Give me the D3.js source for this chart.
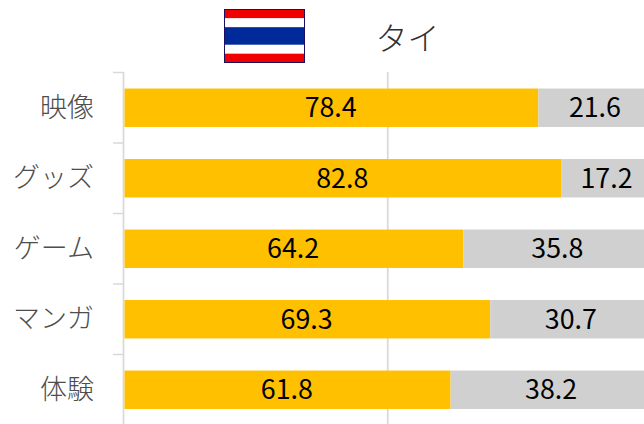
<!DOCTYPE html>
<html lang="ja">
<head>
<meta charset="utf-8">
<script src="https://cdn.jsdelivr.net/npm/d3@7"></script>
<style>
html, body { margin: 0; padding: 0; background: #fff; overflow: hidden; }
text { font-family: "Noto Sans CJK JP", sans-serif; }
</style>
</head>
<body>
<div id="chart"></div>
<script>
const categories = ["映像", "グッズ", "ゲーム", "マンガ", "体験"];
const yesValues = [78.4, 82.8, 64.2, 69.3, 61.8];
const noValues = [21.6, 17.2, 35.8, 30.7, 38.2];
const gridValues = [0, 50, 100];
const titleText = "タイ";

const flagStripes = ["#f00000", "#ffffff", "#00299a", "#ffffff", "#f00000"];
const flagWeights = [1, 1, 2, 1, 1];

const chartWidth = 644, chartHeight = 424;
const plot = { top: 72, bottom: 424, left: 124, unit: 5.285 };

const svg = d3.select("#chart").append("svg")
    .attr("width", chartWidth)
    .attr("height", chartHeight)
    .style("display", "block");

const x = d3.scaleLinear()
    .domain([0, 100])
    .range([plot.left, plot.left + 100 * plot.unit]);

const y = d3.scaleBand()
    .domain(categories)
    .range([plot.top + 0.5, plot.bottom + 1])
    .paddingInner(0.455)
    .paddingOuter(0.2275);

// gridlines + tick marks
svg.append("g")
    .selectAll("line")
    .data(gridValues)
    .join("line")
    .attr("x1", d => x(d) - 0.5)
    .attr("x2", d => x(d) - 0.5)
    .attr("y1", plot.top)
    .attr("y2", plot.bottom)
    .attr("stroke", "#d9d9d9")
    .attr("stroke-width", 1.75);

const tickYs = categories.map(c => y(c) - y.step() * y.paddingInner() / 2);
tickYs.push(y(categories[4]) + y.bandwidth() + y.step() * y.paddingInner() / 2);

svg.append("g")
    .selectAll("line")
    .data(tickYs)
    .join("line")
    .attr("x1", plot.left - 11)
    .attr("x2", plot.left)
    .attr("y1", d => d)
    .attr("y2", d => d)
    .attr("stroke", "#d9d9d9")
    .attr("stroke-width", 1.5);

const rows = categories.map((c, i) => ({ name: c, yes: yesValues[i], no: noValues[i] }));

const row = svg.append("g")
    .selectAll("g")
    .data(rows)
    .join("g");

row.append("rect")
    .attr("x", x(0) + 0.5)
    .attr("y", d => y(d.name))
    .attr("width", d => x(d.yes) - x(0) - 0.5)
    .attr("height", y.bandwidth())
    .attr("fill", "#ffc000");

row.append("rect")
    .attr("x", d => x(d.yes))
    .attr("y", d => y(d.name))
    .attr("width", d => x(d.no) - x(0))
    .attr("height", y.bandwidth())
    .attr("fill", "#d0d0d0");

const valueLabel = (sel, cx, val) => sel.append("text")
    .attr("x", cx)
    .attr("y", d => y(d.name) + y.bandwidth() / 2 + 9.5)
    .attr("text-anchor", "middle")
    .attr("font-size", 26.8)
    .attr("fill", "#000")
    .text(val);

valueLabel(row, d => x(d.yes / 2) - 0.5, d => d.yes.toFixed(1));
valueLabel(row, d => x(d.yes + d.no / 2) - 0.5, d => d.no.toFixed(1));

// category labels
svg.append("g")
    .selectAll("text")
    .data(categories)
    .join("text")
    .attr("x", 94)
    .attr("y", d => y(d) + y.bandwidth() / 2 + 9)
    .attr("text-anchor", "end")
    .attr("font-size", 27)
    .attr("font-weight", 300)
    .attr("fill", "#4d4d4d")
    .text(d => d);

// title
svg.append("text")
    .attr("x", 407.5)
    .attr("y", 50)
    .attr("text-anchor", "middle")
    .attr("font-size", 32)
    .attr("font-weight", 300)
    .attr("fill", "#303030")
    .text(titleText);

// flag
const flagBox = { x: 224.5, y: 9.5, w: 80, h: 53 };
const flagY = d3.scaleLinear().domain([0, d3.sum(flagWeights)]).range([flagBox.y, flagBox.y + flagBox.h]);
const flagOffsets = d3.cumsum([0, ...flagWeights]);

svg.append("g")
    .selectAll("rect")
    .data(flagStripes)
    .join("rect")
    .attr("x", flagBox.x)
    .attr("y", (d, i) => flagY(flagOffsets[i]))
    .attr("width", flagBox.w)
    .attr("height", (d, i) => flagY(flagOffsets[i + 1]) - flagY(flagOffsets[i]))
    .attr("fill", d => d);

svg.append("rect")
    .attr("x", flagBox.x)
    .attr("y", flagBox.y)
    .attr("width", flagBox.w)
    .attr("height", flagBox.h)
    .attr("fill", "none")
    .attr("stroke", "#1a1060")
    .attr("stroke-width", 1);
</script>
</body>
</html>
